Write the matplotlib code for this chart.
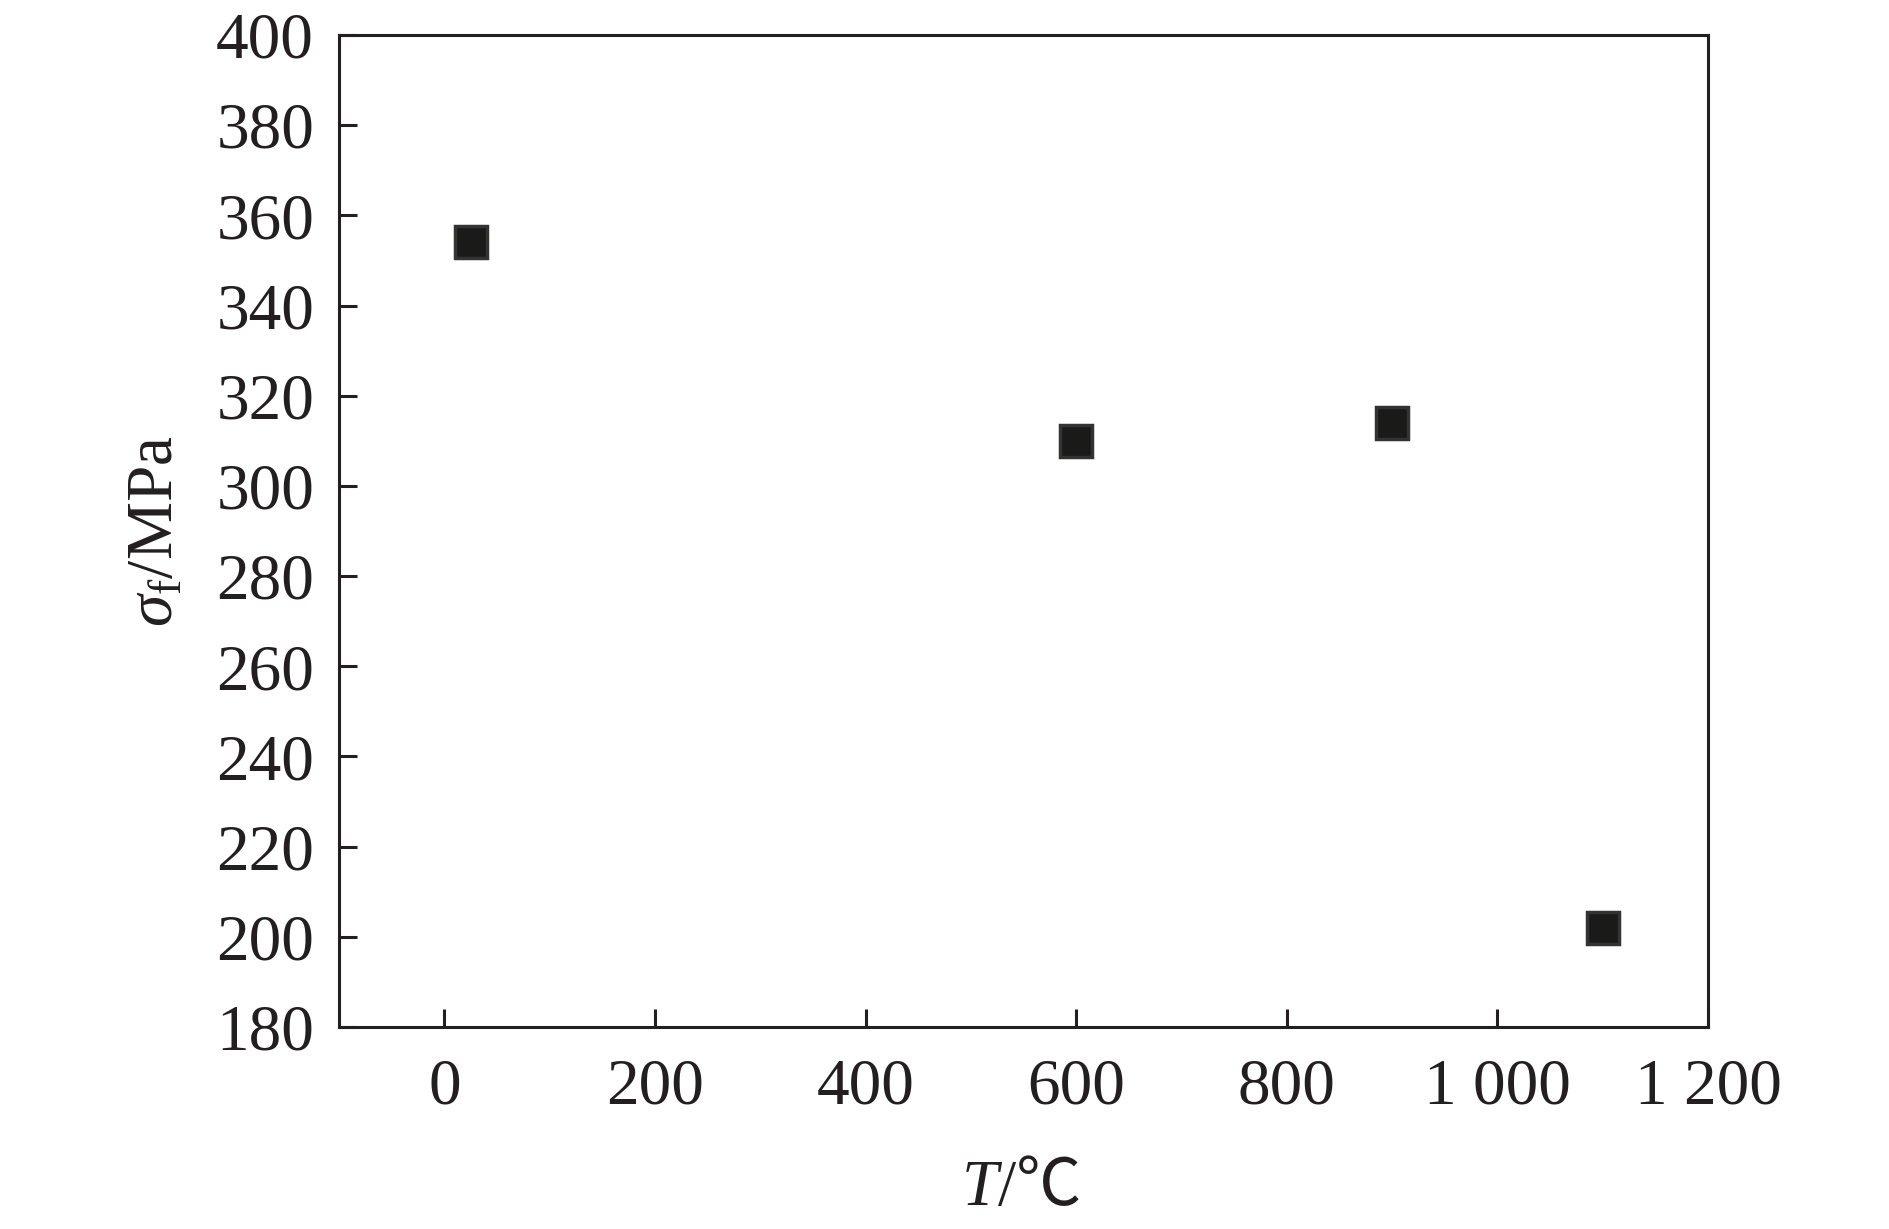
import matplotlib
matplotlib.use('Agg')
import matplotlib.pyplot as plt

# data
temps = [25, 600, 900, 1100]
strength = [354, 310, 314, 202]

xticks = [0, 200, 400, 600, 800, 1000, 1200]
xticklabels = ['0', '200', '400', '600', '800', '1 000', '1 200']
yticks = [180, 200, 220, 240, 260, 280, 300, 320, 340, 360, 380, 400]

ink = '#231f20'

plt.rcParams['font.family'] = ['Liberation Serif', 'Noto Sans CJK SC']
plt.rcParams['mathtext.fontset'] = 'custom'
plt.rcParams['mathtext.rm'] = 'Liberation Serif'
plt.rcParams['mathtext.it'] = 'Liberation Serif:italic'

fig = plt.figure(figsize=(18.9, 12.29), dpi=100)
ax = fig.add_axes([0.1794, 0.1644, 0.7243, 0.8071])

ax.plot(temps, strength, linestyle='none', marker='s', markersize=23,
        markerfacecolor='#1a1a18', markeredgecolor='#333333', markeredgewidth=2.5)

ax.set_xlim(-100, 1200)
ax.set_ylim(180, 400)
ax.set_xticks(xticks)
ax.set_xticklabels(xticklabels)
ax.set_yticks(yticks)

for s in ax.spines.values():
    s.set_linewidth(2.2)
    s.set_color(ink)

ax.tick_params(direction='in', length=13, width=2.2, color=ink,
               labelsize=47, labelcolor=ink, top=False, right=False)
ax.tick_params(axis='x', pad=22)
ax.tick_params(axis='y', pad=18)

# x label: italic T, then /℃ (℃ needs the CJK fallback, so no mathtext here)
t1 = ax.text(0.481, -0.179, 'T', transform=ax.transAxes, ha='right',
             va='baseline', fontsize=47, style='italic', color=ink)
ax.annotate('/℃', xy=(1, 0), xycoords=t1, ha='left', va='bottom',
            fontsize=47, color=ink)

ax.set_ylabel(r'$\sigma_{\rm f}$/MPa', fontsize=47, color=ink, labelpad=22)

fig.savefig('out.png', dpi=100, facecolor='white')
